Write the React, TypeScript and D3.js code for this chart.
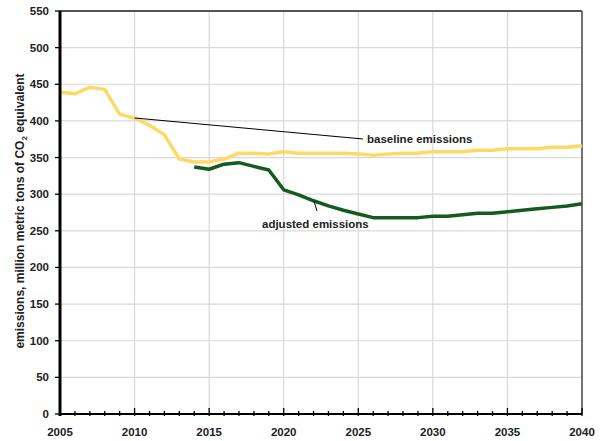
import React from "react";
import * as d3 from "d3";

const baselineYears = d3.range(2005, 2041);
const baselineValues = [439, 437, 446, 443, 409, 404, 394, 381, 348, 344, 344, 348, 356, 356, 355, 358, 356, 356, 356, 356, 355, 353, 355, 356, 356, 358, 358, 358, 360, 360, 362, 362, 362, 364, 364, 366];
const adjustedYears = d3.range(2014, 2041);
const adjustedValues = [337, 334, 341, 343, 338, 333, 306, 299, 291, 284, 278, 273, 268, 268, 268, 268, 270, 270, 272, 274, 274, 276, 278, 280, 282, 284, 287];
const yTicks = [0, 50, 100, 150, 200, 250, 300, 350, 400, 450, 500, 550];
const xMajor = [2005, 2010, 2015, 2020, 2025, 2030, 2035, 2040];

export default function App() {
  const W = 603, H = 441;
  const x = d3.scaleLinear().domain([2005, 2040]).range([60, 582]);
  const y = d3.scaleLinear().domain([0, 550]).range([414, 11]);
  const line = d3.line<[number, number]>().x(d => x(d[0])).y(d => y(d[1]));
  const base = baselineYears.map((yr, i) => [yr, baselineValues[i]] as [number, number]);
  const adj = adjustedYears.map((yr, i) => [yr, adjustedValues[i]] as [number, number]);
  const font = "'Liberation Sans', Arial, sans-serif";
  const minor = d3.range(2005, 2041);
  return (
    <svg width={W} height={H} style={{ position: "absolute", left: 0, top: 0, background: "#fff" }}>
      {yTicks.filter(t => t > 0).map(t => (
        <line key={"gy" + t} x1={x(2005)} x2={x(2040)} y1={y(t)} y2={y(t)} stroke="#d9d9d9" strokeWidth={1.2} />
      ))}
      {xMajor.filter(t => t > 2005 && t < 2040).map(t => (
        <line key={"gx" + t} x1={x(t)} x2={x(t)} y1={y(550)} y2={y(0)} stroke="#d9d9d9" strokeWidth={1.2} />
      ))}
      <line x1={x(2005)} x2={x(2040)} y1={y(550)} y2={y(550)} stroke="#222" strokeWidth={1.5} />
      <line x1={x(2040)} x2={x(2040)} y1={y(550)} y2={y(0)} stroke="#444" strokeWidth={1.5} />
      <path d={line(base) || ""} fill="none" stroke="#FFD966" strokeWidth={3.5} strokeLinejoin="round" />
      <path d={line(adj) || ""} fill="none" stroke="#155A1E" strokeWidth={3.5} strokeLinejoin="round" />
      <line x1={x(2005)} x2={x(2040)} y1={y(0)} y2={y(0)} stroke="#000" strokeWidth={2} />
      {minor.map(t => (
        <line key={"mt" + t} x1={x(t)} x2={x(t)} y1={y(0) - (t % 5 === 0 ? 6 : 3)} y2={y(0) + 2} stroke="#000" strokeWidth={1.3} />
      ))}
      <line x1={x(2005)} x2={x(2005)} y1={y(550)} y2={y(0) + 2} stroke="#000" strokeWidth={3} />
      {yTicks.map(t => (
        <line key={"yt" + t} x1={x(2005) - 5} x2={x(2005)} y1={y(t)} y2={y(t)} stroke="#000" strokeWidth={1.3} />
      ))}
      {yTicks.map(t => (
        <text key={"yl" + t} x={49} y={y(t)} dy="0.35em" textAnchor="end" fontFamily={font} fontWeight="bold" fontSize={11.5} fill="#222">{t}</text>
      ))}
      {xMajor.map(t => (
        <text key={"xl" + t} x={x(t)} y={436} textAnchor="middle" fontFamily={font} fontWeight="bold" fontSize={11.5} fill="#222">{t}</text>
      ))}
      <text transform={`translate(24,211) rotate(-90)`} textAnchor="middle" fontFamily={font} fontWeight="bold" fontSize={12} fill="#222">
        emissions, million metric tons of CO<tspan fontSize={8} dy={3}>2</tspan><tspan dy={-3}> equivalent</tspan>
      </text>
      <line x1={x(2010)} y1={y(404)} x2={363} y2={139} stroke="#000" strokeWidth={1} />
      <text x={367} y={143} fontFamily={font} fontWeight="bold" fontSize={11.5} fill="#222">baseline emissions</text>
      <line x1={314} y1={201} x2={317} y2={211} stroke="#000" strokeWidth={1} />
      <text x={262} y={228} fontFamily={font} fontWeight="bold" fontSize={11.5} fill="#222">adjusted emissions</text>
    </svg>
  );
}
